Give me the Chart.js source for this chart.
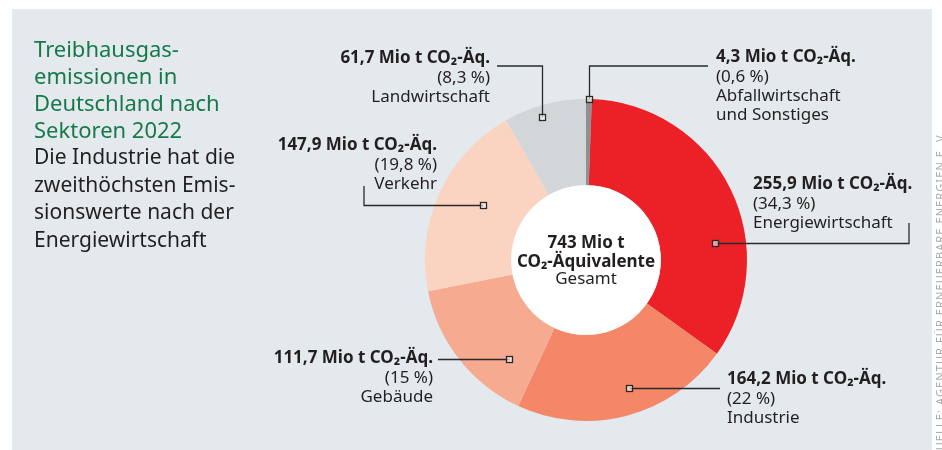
<!DOCTYPE html>
<html>
<head>
<meta charset="utf-8">
<script src="https://cdn.jsdelivr.net/npm/chart.js"></script>
<style>
  body { margin: 0; background: #fff; width: 942px; height: 450px; overflow: hidden; position: relative; font-family: "Noto Sans", sans-serif; }
  #panel { position: absolute; left: 12px; top: 9px; width: 920px; height: 441px; background: #E4E9ED; }
  #wrap { position: absolute; left: 0; top: 0; width: 942px; height: 450px; }
  #title { position: absolute; left: 34px; top: 35px; font-size: 22px; line-height: 27px; color: #17794A; }
  #sub { position: absolute; left: 34px; top: 143px; font-size: 21px; line-height: 27.5px; color: #231F20; }
  #source { position: absolute; left: 934px; top: 460px; transform-origin: 0 0; transform: rotate(-90deg); white-space: nowrap;
            font-size: 11px; line-height: 11px; letter-spacing: 1.1px; color: #A9ACAF; }
</style>
</head>
<body>
<div id="panel"></div>
<div id="wrap"><canvas id="chart" width="942" height="450"></canvas></div>
<div id="title">Treibhausgas-<br>emissionen in<br>Deutschland nach<br>Sektoren 2022</div>
<div id="sub">Die Industrie hat die<br>zweithöchsten Emis-<br>sionswerte nach der<br>Energiewirtschaft</div>
<div id="source">QUELLE: AGENTUR FÜR ERNEUERBARE ENERGIEN E. V.</div>
<script>
// data
var sectors = ['Abfallwirtschaft und Sonstiges', 'Energiewirtschaft', 'Industrie', 'Gebäude', 'Verkehr', 'Landwirtschaft'];
var sectorLines = [['Abfallwirtschaft', 'und Sonstiges'], ['Energiewirtschaft'], ['Industrie'], ['Gebäude'], ['Verkehr'], ['Landwirtschaft']];
var emissions = [4.3, 255.9, 164.2, 111.7, 147.9, 61.7];
var shares = [0.6, 34.3, 22, 15, 19.8, 8.3];
var total = 743;
var colors = ['#8E9194', '#EC2027', '#F48767', '#F6AA90', '#FBD3C1', '#D3D6D8'];

// label layout: t = position along arc, rf = position across ring
var labelLayout = [
  { t: 0.5, rf: 1.0, x: 716, align: 'left', y: 62, first: 'v', hx: 708, vy: 66 },
  { t: 0.65, rf: 0.64, x: 753, align: 'left', y: 189, first: 'h', hx: 909, vy: 223 },
  { t: 0.45, rf: 0.70, x: 727, align: 'left', y: 384, hx: 720 },
  { t: 0.24, rf: 0.58, x: 433, align: 'right', y: 363, hx: 438 },
  { t: 0.55, rf: 0.49, x: 437, align: 'right', y: 150, first: 'h', hx: 364, vy: 186 },
  { t: 0.43, rf: 0.87, x: 490, align: 'right', y: 63, first: 'v', hx: 497, vy: 66 }
];

function fmt(v) {
  return v.toLocaleString('de-DE');
}

var labelPlugin = {
  id: 'sectorLabels',
  afterDatasetsDraw(chart) {
    var ctx = chart.ctx;
    var arcs = chart.getDatasetMeta(0).data;
    var a0 = arcs[0];
    ctx.save();
    // white hole
    ctx.fillStyle = '#fff';
    ctx.beginPath();
    ctx.arc(a0.x, a0.y, a0.innerRadius, 0, Math.PI * 2);
    ctx.fill();
    // center text
    ctx.fillStyle = '#231F20';
    ctx.textAlign = 'center';
    ctx.font = 'bold 17px "Noto Sans"';
    ctx.fillText(total + ' Mio t', a0.x, a0.y - 12);
    ctx.fillText('CO₂-Äquivalente', a0.x, a0.y + 7);
    ctx.font = '17px "Noto Sans"';
    ctx.fillText('Gesamt', a0.x, a0.y + 24);

    arcs.forEach(function (arc, i) {
      var p = labelLayout[i];
      var ang = arc.startAngle + (arc.endAngle - arc.startAngle) * p.t;
      var r = arc.innerRadius + (arc.outerRadius - arc.innerRadius) * p.rf;
      var sx = Math.round(arc.x + Math.cos(ang) * r) + 0.5;
      var sy = Math.round(arc.y + Math.sin(ang) * r) + 0.5;
      ctx.strokeStyle = '#2B2A2B';
      ctx.lineWidth = 1.3;
      ctx.beginPath();
      ctx.moveTo(sx, sy);
      if (p.first == 'v') {
        ctx.lineTo(sx, p.vy);
        ctx.lineTo(p.hx, p.vy);
      } else if (p.first == 'h') {
        ctx.lineTo(p.hx, sy);
        ctx.lineTo(p.hx, p.vy);
      } else {
        ctx.lineTo(p.hx, sy);
      }
      ctx.stroke();
      ctx.fillStyle = 'rgba(255,255,255,0.6)';
      ctx.fillRect(sx - 3, sy - 3, 6, 6);
      ctx.strokeRect(sx - 3, sy - 3, 6, 6);

      // text
      ctx.fillStyle = '#231F20';
      ctx.textAlign = p.align;
      ctx.font = 'bold 17px "Noto Sans"';
      ctx.fillText(fmt(emissions[i]) + ' Mio t CO₂-Äq.', p.x, p.y);
      ctx.font = '17px "Noto Sans"';
      ctx.fillText('(' + fmt(shares[i]) + ' %)', p.x, p.y + 19.5);
      sectorLines[i].forEach(function (line, k) {
        ctx.fillText(line, p.x, p.y + 39 + k * 19);
      });
    });
    ctx.restore();
  }
};

var ctx = document.getElementById('chart').getContext('2d');
var myChart = new Chart(ctx, {
  type: 'doughnut',
  data: {
    labels: sectors,
    datasets: [{
      data: emissions,
      backgroundColor: colors,
      borderWidth: 0
    }]
  },
  options: {
    responsive: false,
    animation: false,
    events: [],
    cutout: '46.5%',
    layout: { padding: { left: 425, right: 195, top: 99, bottom: 29 } },
    plugins: {
      legend: { display: false },
      tooltip: { enabled: false }
    }
  },
  plugins: [labelPlugin]
});
</script>
</body>
</html>
